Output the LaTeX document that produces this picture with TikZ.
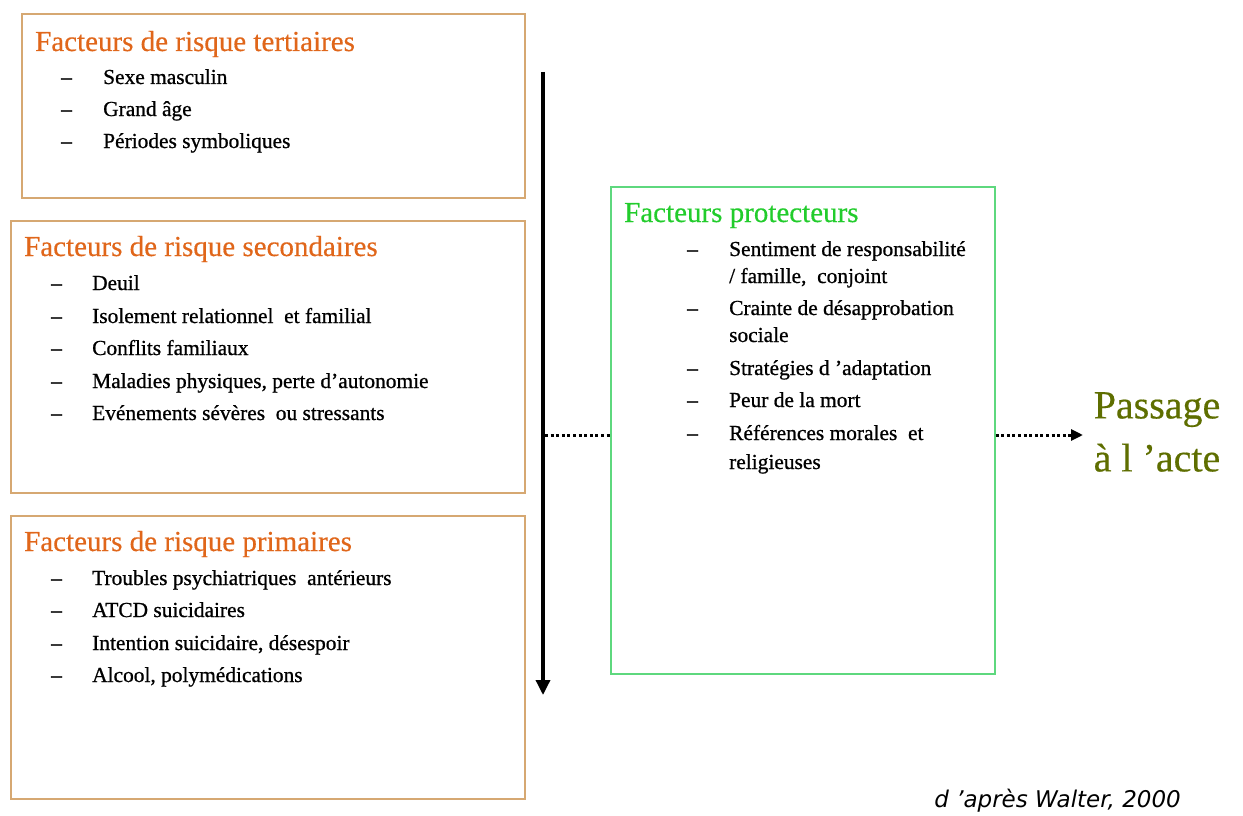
\documentclass[tikz,border=0pt]{standalone}
\usepackage{fontspec}
\setmainfont{Liberation Serif}
\newfontfamily\itemfont{Liberation Serif}[FakeBold=0.8]
\newfontfamily\titlefont{Liberation Serif}[FakeBold=0.4]
\newfontfamily\refsans{DejaVu Sans}
\usetikzlibrary{arrows.meta}
\definecolor{riskborder}{HTML}{D6A872}
\definecolor{risktitle}{HTML}{E0661A}
\definecolor{protborder}{HTML}{5ED87E}
\definecolor{prottitle}{HTML}{22CC2C}
\definecolor{actcolor}{HTML}{5E6E00}
\tikzset{
  riskbox/.style={draw=riskborder, line width=1.6pt, anchor=north west, inner sep=0pt},
  protbox/.style={draw=protborder, line width=1.6pt, anchor=north west, inner sep=0pt},
  boxtitle/.style={anchor=base west, inner sep=0pt, font=\titlefont\fontsize{29}{32}\selectfont},
  item/.style={anchor=base west, inner sep=0pt, font=\itemfont\fontsize{21.4}{25}\selectfont},
  dashmark/.style={anchor=base west, inner sep=0pt, font=\itemfont\fontsize{21.4}{25}\selectfont},
  flow/.style={line width=3.4pt, -{Triangle[length=15pt, width=14pt]}},
  dotlink/.style={line width=3pt, dash pattern=on 3pt off 2.6pt},
}
\begin{document}
\begin{tikzpicture}[x=1pt, y=-1pt]
\useasboundingbox (0,0) rectangle (1243,816);

% --- tertiary risk factors
\node[riskbox, minimum width=503pt, minimum height=184pt] (tert) at (21,13) {};
\node[boxtitle, text=risktitle] (tertT) at (35,51) {Facteurs de risque tertiaires};
\foreach \y/\t [count=\i] in {84/Sexe masculin, 116/Grand âge, 148/Périodes symboliques}{
  \node[dashmark] (tertD\i) at (61,\y) {–};
  \node[item] (tertI\i) at (103,\y) {\t};
}

% --- secondary risk factors
\node[riskbox, minimum width=514pt, minimum height=272pt] (sec) at (10,220) {};
\node[boxtitle, text=risktitle] (secT) at (24,256) {Facteurs de risque secondaires};
\foreach \y/\t [count=\i] in {290/Deuil, 323/Isolement relationnel\ \ et familial, 355/Conflits familiaux, 388/{Maladies physiques, perte d’autonomie}, 420/Evénements sévères\ \ ou stressants}{
  \node[dashmark] (secD\i) at (51,\y) {–};
  \node[item] (secI\i) at (92,\y) {\t};
}

% --- primary risk factors
\node[riskbox, minimum width=514pt, minimum height=283pt] (prim) at (10,515) {};
\node[boxtitle, text=risktitle] (primT) at (24,551) {Facteurs de risque primaires};
\foreach \y/\t [count=\i] in {585/Troubles psychiatriques\ \ antérieurs, 617/ATCD suicidaires, 650/{Intention suicidaire, désespoir}, 682/{Alcool, polymédications}}{
  \node[dashmark] (primD\i) at (51,\y) {–};
  \node[item] (primI\i) at (92,\y) {\t};
}

% --- protective factors
\node[protbox, minimum width=384pt, minimum height=487pt] (prot) at (610,186) {};
\node[boxtitle, text=prottitle] (protT) at (624,222) {Facteurs protecteurs};
\foreach \y/\t [count=\i] in {256/Sentiment de responsabilité, 283/{/ famille,\ \ conjoint}, 315/Crainte de désapprobation, 342/sociale, 375/Stratégies d ’adaptation, 407/Peur de la mort, 440/Références morales\ \ et, 469/religieuses}{
  \node[item] (protI\i) at (729,\y) {\t};
}
\foreach \y [count=\i] in {256,315,375,407,440}{
  \node[dashmark] (protD\i) at (687,\y) {–};
}

% --- outcome
\node[align=center, text=actcolor, font=\titlefont\fontsize{40}{53}\selectfont, inner sep=0pt] (act) at (1157,432) {Passage\\à l ’acte};

% --- reference
\node[anchor=base east, inner sep=0pt, font=\refsans\itshape\fontsize{23}{27}\selectfont] (ref) at (1181,807) {d ’après Walter, 2000};

% --- connectors
\coordinate (flowTop) at (543,72);
\coordinate (flowEnd) at (543,695);
\coordinate (flowMid) at (545,435);
\coordinate (actIn) at (1083,435);
\draw[flow] (flowTop) -- (flowEnd);
\draw[dotlink] (flowMid) -- (prot.west |- flowMid);
\draw[dotlink, -{Triangle[length=12pt, width=11pt]}] (prot.east |- flowMid) -- (actIn);
\end{tikzpicture}
\end{document}
